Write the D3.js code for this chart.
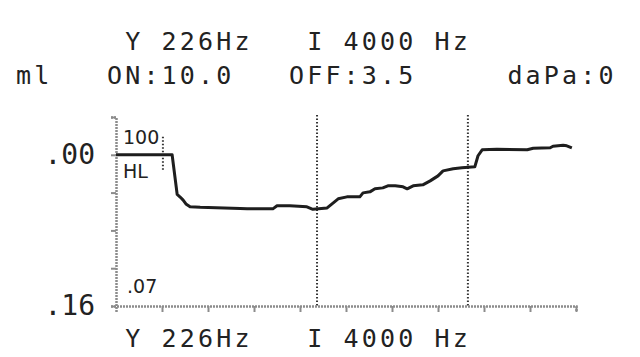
<!DOCTYPE html>
<head>
  <style>
    body { margin: 0; background: #fff; }
    text { fill: #222; }
    .mono { font-family: "DejaVu Sans Mono", monospace; font-size: 25px; letter-spacing: 3.15px; }
    .ylab { font-family: "DejaVu Sans Mono", monospace; font-size: 28px; }
    .small { font-family: "DejaVu Sans", sans-serif; font-size: 19px; }
  </style>
  <title>Reflex decay</title>
</head>
<body>
  <script src="https://cdn.jsdelivr.net/npm/d3@7/dist/d3.min.js"></script>
  <script>
    // trace: time (tick units) and compliance change (ml)
    var times = [0, 1.22, 1.33, 1.40, 1.46, 1.52, 1.61, 1.83, 2.70, 2.85, 3.41, 3.50, 3.78, 4.15, 4.28, 4.59,
                 4.83, 5.02, 5.30, 5.37, 5.52, 5.63, 5.80, 5.91, 6.07, 6.24, 6.33, 6.46, 6.67, 6.83,
                 7.00, 7.11, 7.33, 7.52, 7.80, 7.87, 7.96, 8.28, 8.94, 9.07, 9.44, 9.50, 9.72, 9.80, 9.91];
    var values = [0, 0, 0.042, 0.045, 0.048, 0.052, 0.055, 0.0556, 0.0567, 0.0572, 0.0572, 0.054, 0.054, 0.055, 0.0577, 0.0562,
                  0.0466, 0.0445, 0.0445, 0.0403, 0.0392, 0.036, 0.035, 0.0328, 0.0328, 0.0339, 0.036, 0.0328, 0.0318, 0.0276,
                  0.0223, 0.017, 0.0148, 0.0138, 0.0127, 0.001, -0.0053, -0.0058, -0.0053, -0.0069, -0.0074, -0.009, -0.010, -0.0095, -0.0074];

    var xTicks = [1, 2, 3, 4, 5, 6, 7, 8, 9, 10];
    var yTicks = [-0.04, 0, 0.04, 0.08, 0.12, 0.16];
    var yTickLabels = [".00", ".16"];
    var yLabelValues = [0, 0.16];
    var markerTimes = [4.37, 7.65];   // dotted ON / OFF markers
    var hlMarker = [1.02, -0.019, 0.016];

    var headerTop = ["Y 226Hz", "I 4000 Hz"];
    var headerTopCols = [6, 16];
    var headerMid = ["ml", "ON:10.0", "OFF:3.5", "daPa:0"];
    var headerMidCols = [0, 5, 15, 27];

    var width = 640, height = 357;
    var cell = 18.2, col0 = 16;

    var x = d3.scaleLinear().domain([0, 10]).range([116, 576]);
    var y = d3.scaleLinear().domain([-0.04, 0.16]).range([117, 306]);

    var svg = d3.select("body").append("svg")
      .attr("width", width)
      .attr("height", height);

    // header rows
    svg.selectAll(".top").data(headerTop).enter().append("text")
      .attr("class", "mono top")
      .attr("x", function (d, i) { return col0 + headerTopCols[i] * cell; })
      .attr("y", 50)
      .text(function (d) { return d; });

    svg.selectAll(".mid").data(headerMid).enter().append("text")
      .attr("class", "mono mid")
      .attr("x", function (d, i) { return col0 + headerMidCols[i] * cell; })
      .attr("y", 84)
      .text(function (d) { return d; });

    svg.selectAll(".bot").data(headerTop).enter().append("text")
      .attr("class", "mono bot")
      .attr("x", function (d, i) { return col0 + headerTopCols[i] * cell; })
      .attr("y", 347)
      .text(function (d) { return d; });

    // dotted markers
    svg.selectAll(".marker").data(markerTimes).enter().append("line")
      .attr("class", "marker")
      .attr("x1", function (d) { return x(d); })
      .attr("x2", function (d) { return x(d); })
      .attr("y1", y(-0.042))
      .attr("y2", y(0.16))
      .attr("stroke", "#333")
      .attr("stroke-width", 2)
      .attr("stroke-dasharray", "1.5,2");

    svg.append("line")
      .attr("x1", x(hlMarker[0])).attr("x2", x(hlMarker[0]))
      .attr("y1", y(hlMarker[1])).attr("y2", y(hlMarker[2]))
      .attr("stroke", "#333")
      .attr("stroke-width", 2)
      .attr("stroke-dasharray", "1.5,2");

    // axes
    var axisColor = "#8c8c8c";
    var xAxis = svg.append("g")
      .attr("transform", "translate(0," + y(0.16) + ")")
      .call(d3.axisBottom(x).tickValues(xTicks).tickSize(6).tickFormat(""));
    var yAxis = svg.append("g")
      .attr("transform", "translate(" + x(0) + ",0)")
      .call(d3.axisLeft(y).tickValues(yTicks).tickSize(5).tickFormat(""));
    [xAxis, yAxis].forEach(function (g) {
      g.select(".domain").attr("stroke", axisColor).attr("stroke-width", 2.5).attr("stroke-dasharray", "2,1");
      g.selectAll(".tick line").attr("stroke", axisColor).attr("stroke-width", 2);
    });

    // y labels
    svg.selectAll(".ylab").data(yTickLabels).enter().append("text")
      .attr("class", "ylab")
      .attr("text-anchor", "end")
      .attr("x", 95)
      .attr("y", function (d, i) { return y(yLabelValues[i]) + 9; })
      .text(function (d) { return d; });

    // small scale notes
    svg.append("text").attr("class", "small").attr("x", 123).attr("y", 144).text("100");
    svg.append("text").attr("class", "small").attr("x", 123).attr("y", 178).text("HL");
    svg.append("text").attr("class", "small").attr("x", 127).attr("y", 293).text(".07");

    // trace
    var line = d3.line()
      .x(function (d, i) { return x(times[i]); })
      .y(function (d) { return y(d); });

    svg.append("path")
      .datum(values)
      .attr("fill", "none")
      .attr("stroke", "#1e1e1e")
      .attr("stroke-width", 3)
      .attr("stroke-linejoin", "round")
      .attr("d", line);
  </script>
</body>
